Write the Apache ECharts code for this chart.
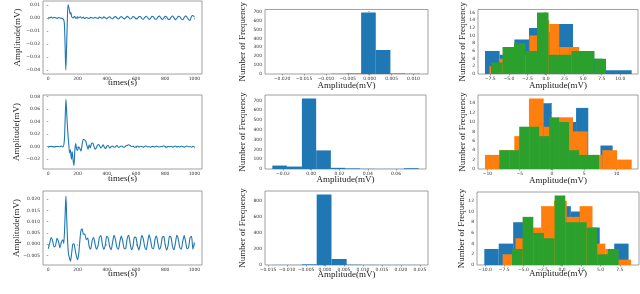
<!DOCTYPE html>
<html><head><meta charset="utf-8">
<script src="https://cdn.jsdelivr.net/npm/echarts@6/dist/echarts.min.js"></script>
<style>html,body{margin:0;padding:0;background:#fff}#c{width:640px;height:294px}</style>
</head><body><div id="c"></div>
<script>
// ---------- tick labels ----------
const timeTicks = [0, 200, 400, 600, 800, 1000];
const aYTicks = [-0.04, -0.03, -0.02, -0.01, 0, 0.01];
const dYTicks = [-0.02, 0, 0.02, 0.04, 0.06, 0.08];
const gYTicks = [-0.005, 0, 0.005, 0.01, 0.015, 0.02];
const bXTicks = [-0.02, -0.015, -0.01, -0.005, 0, 0.005, 0.01];
const bYTicks = [0, 100, 200, 300, 400, 500, 600, 700];
const eXTicks = [-0.02, 0, 0.02, 0.04, 0.06];
const eYTicks = [0, 100, 200, 300, 400, 500, 600, 700];
const hXTicks = [-0.015, -0.01, -0.005, 0, 0.005, 0.01, 0.015, 0.02, 0.025];
const hYTicks = [0, 200, 400, 600, 800];
const cXTicks = [-7.5, -5, -2.5, 0, 2.5, 5, 7.5, 10];
const cYTicks = [0, 2, 4, 6, 8, 10, 12, 14, 16];
const fXTicks = [-10, -5, 0, 5, 10];
const fYTicks = [0, 2, 4, 6, 8, 10, 12, 14];
const iXTicks = [-10, -7.5, -5, -2.5, 0, 2.5, 5, 7.5];
const iYTicks = [0, 2, 4, 6, 8, 10, 12];

// ---------- row 1 signal ----------
const aTimes = [0,10,20,30,40,50,60,70,80,90,100,105,110,115,120,125,130,135,140,145,150,155,160,170,180,190,200,
 210,220,230,240,250,260,270,280,290,300,310,320,330,340,350,360,370,380,390,400,410,420,430,440,450,460,470,480,490,500,
 510,520,530,540,550,560,570,580,590,600,610,620,630,640,650,660,670,680,690,700,710,720,730,740,750,760,770,780,790,800,
 810,820,830,840,850,860,870,880,890,900,910,920,930,940,950,960,970,980,990,1000];
const aValues = [0.0003,0.0000,0.0006,-0.0002,0.0004,0.0001,-0.0004,0.0003,0.0000,-0.0003,-0.0006,-0.0012,-0.0040,-0.0200,-0.0400,-0.0240,-0.0040,0.0102,0.0085,0.0060,0.0030,0.0042,0.0010,0.0000,0.0012,-0.0005,0.0008,
 0.0002,0.0009,-0.0002,0.0006,-0.0004,0.0003,0.0000,-0.0005,0.0004,0.0001,-0.0003,0.0005,0.0000,-0.0004,0.0006,0.0002,-0.0003,0.0008,0.0001,-0.0006,0.0004,0.0009,-0.0002,-0.0007,0.0005,0.0010,-0.0001,-0.0008,0.0003,0.0011,
 0.0000,-0.0009,0.0002,0.0012,0.0004,-0.0008,-0.0003,0.0010,0.0006,-0.0007,-0.0004,0.0009,0.0011,-0.0005,-0.0010,0.0004,0.0013,0.0002,-0.0011,-0.0003,0.0012,0.0008,-0.0009,-0.0010,0.0006,0.0014,0.0001,-0.0012,-0.0002,0.0013,
 0.0007,-0.0010,-0.0011,0.0005,0.0015,0.0002,-0.0013,-0.0004,0.0012,0.0010,-0.0008,-0.0014,0.0003,0.0016,0.0005,-0.0012,-0.0020,0.0011,0.0018,0.0006];

// ---------- row 2 signal ----------
const dTimes = [0,20,40,60,80,90,100,110,115,121,127,133,140,146,152,158,164,170,176,182,188,194,200,208,216,224,232,240,248,256,264,272,280,288,296,304,312,320,328,336,344,352,360,368,376,384,392,400,
 410,420,430,440,450,460,470,480,490,500,510,520,530,540,550,560,570,580,590,600,610,620,630,640,650,660,670,680,690,700,
 710,720,730,740,750,760,770,780,790,800,810,820,830,840,850,860,870,880,890,900,910,920,930,940,950,960,970,980,990,1000];
const dValues = [0.000,0.0005,-0.0003,0.0004,0.0000,0.0012,-0.0003,0.010,0.040,0.0757,0.050,0.025,0.005,-0.010,-0.005,-0.020,-0.008,-0.022,-0.030,-0.005,0.005,-0.004,-0.006,0.000,-0.003,-0.007,0.004,0.012,0.011,0.009,0.002,-0.004,0.003,-0.002,0.005,0.006,0.001,-0.004,-0.002,0.002,0.004,0.001,-0.002,0.000,0.003,-0.001,-0.003,0.001,
 0.002,-0.002,0.000,0.001,-0.001,0.000,0.002,-0.001,0.000,0.001,0.000,-0.001,0.001,0.002,0.003,0.002,0.000,0.001,-0.001,0.000,0.001,-0.0005,0.0008,0.0002,-0.0008,0.0006,0.0012,-0.0004,0.0003,-0.0010,
 0.0005,0.0001,-0.0006,0.0009,0.0002,-0.0005,0.0004,0.0000,0.0015,0.0003,-0.0007,0.0006,-0.0002,0.0008,-0.0009,0.0004,0.0010,-0.0003,0.0005,-0.0006,0.0007,0.0001,-0.0008,0.0004,0.0011,-0.0002,0.0003,-0.0009,0.0005,-0.0001];

// ---------- row 3 signal ----------
const gTimes = [0,10,20,30,40,50,60,70,80,90,100,106,112,117,121,126,132,138,145,152,160,168,176,184,192,200,208,216,224,232,240,
 250,260,270,280,290,300,310,320,330,340,350,360,370,380,390,400,410,420,430,440,450,460,470,480,490,500,
 510,520,530,540,550,560,570,580,590,600,610,620,630,640,650,660,670,680,690,700,710,720,730,740,750,760,770,780,790,800,
 810,820,830,840,850,860,870,880,890,900,910,920,930,940,950,960,970,980,990,1000];
const gValues = [-0.0020,0.0005,0.0030,0.0015,-0.0012,-0.0005,0.0026,0.0012,-0.0016,0.0010,0.0020,0.0004,0.0070,0.0160,0.0215,0.0120,0.0020,-0.0040,-0.0062,-0.0075,-0.0040,0.0000,0.0002,-0.0025,-0.0050,-0.0068,-0.0045,0.0015,0.0062,0.0068,0.0045,
 0.0045,0.0020,0.0028,-0.0010,-0.0022,0.0015,0.0030,0.0002,-0.0022,-0.0008,0.0030,0.0038,0.0000,-0.0022,-0.0005,0.0035,0.0028,-0.0010,-0.0024,0.0008,0.0040,0.0020,-0.0015,-0.0022,0.0012,0.0036,
 0.0012,-0.0020,-0.0018,0.0025,0.0040,0.0005,-0.0024,-0.0008,0.0032,0.0030,-0.0005,-0.0025,0.0002,0.0038,0.0025,-0.0012,-0.0024,0.0010,0.0042,0.0018,-0.0016,-0.0020,0.0020,0.0036,0.0005,-0.0022,-0.0010,0.0030,0.0035,-0.0002,
 -0.0025,-0.0005,0.0036,0.0030,-0.0008,-0.0024,0.0005,0.0040,0.0022,-0.0015,-0.0022,0.0012,0.0038,0.0010,-0.0020,-0.0015,0.0028,0.0035,-0.0022,0.0008];

// ---------- histograms (bin edges and counts) ----------
const bEdges = [-0.0220,-0.01866,-0.01532,-0.01198,-0.00864,-0.0053,-0.00196,0.00138,0.00472,0.00806,0.0114];
const bCounts = [0,0,0,1,4,6,690,270,5,2];
const eEdges = [-0.0275,-0.0172,-0.0066,0.0035,0.0139,0.0242,0.0346,0.0449,0.0553,0.0656,0.0760];
const eCounts = [35,25,720,190,12,6,2,1,1,8];
const hEdges = [-0.0140,-0.0101,-0.0061,-0.0022,0.0017,0.0057,0.0096,0.0135,0.0175,0.0214,0.0253];
const hCounts = [1,1,8,885,75,4,2,1,1,1];

const cBlueEdges = [-8.21,-6.24,-4.26,-2.29,-0.32,1.66,3.63,5.60,7.58,9.55,11.53];
const cBlueCounts = [6,5,9,12,11,13,3,4,1,1];
const cOrangeEdges = [-7.61,-6.27,-4.93,-3.58,-2.24,-0.90,0.45,1.79,3.13,4.47,5.81];
const cOrangeCounts = [2,4,7,5,10,14,13,7,7,3];
const cGreenEdges = [-7.40,-5.85,-4.31,-2.76,-1.21,0.34,1.88,3.43,4.98,6.53,8.08];
const cGreenCounts = [3,7,8,6,16,5,5,6,6,4];

const fBlueEdges = [-9.50,-7.61,-5.72,-3.83,-1.94,-0.05,1.84,3.73,5.62,7.51,9.40];
const fBlueCounts = [1,2,4,8,14,8,10,13,2,5];
const fOrangeEdges = [-10.39,-8.12,-5.84,-3.57,-1.29,0.98,3.25,5.53,7.80,10.08,12.35];
const fOrangeCounts = [3,4,7,15,9,11,8,3,4,2];
const fGreenEdges = [-8.17,-6.62,-5.08,-3.53,-1.99,-0.44,1.10,2.65,4.20,5.74,7.29];
const fGreenCounts = [4,4,9,9,7,11,10,4,3,3];

const iBlueEdges = [-10.09,-8.22,-6.34,-4.47,-2.60,-0.72,1.15,3.03,4.90,6.78,8.65];
const iBlueCounts = [3,4,8,6,9,11,10,7,2,4];
const iOrangeEdges = [-7.71,-6.04,-4.38,-2.71,-1.04,0.62,2.29,3.96,5.63,7.29,8.96];
const iOrangeCounts = [2,5,7,11,12,9,11,4,3,1];
const iGreenEdges = [-6.50,-5.12,-3.73,-2.35,-0.96,0.43,1.81,3.20,4.58,5.97,7.35];
const iGreenCounts = [3,9,6,5,13,8,8,7,2,3];

// ---------- build ----------
const BLUE = '#1f77b4', ORANGE = '#ff7f0e', GREEN = '#2ca02c';
function fmt(dec) { return v => Number(v).toFixed(dec).replace('-', '\u2212'); }

const grids = [
  {left:43, top:1, width:159, height:73}, {left:265, top:1, width:163, height:73}, {left:478, top:1, width:160, height:73},
  {left:43, top:95, width:159, height:74}, {left:265, top:95, width:161, height:74}, {left:478, top:95, width:160, height:74},
  {left:43, top:191, width:159, height:74}, {left:265, top:191, width:163, height:74}, {left:477, top:192, width:162, height:73}
].map(g => Object.assign({show:true, borderColor:'#888', borderWidth:0.8, backgroundColor:'#fff'}, g));

const nameStyle = {fontFamily:'Liberation Serif', fontSize:9, color:'#222'};
function xAx(i, min, max, ticks, dec, name, gap) {
  return {type:'value', gridIndex:i, min, max, position:'bottom',
    axisLine:{show:false}, splitLine:{show:false},
    axisTick:{show:true, customValues:ticks, length:1.5, lineStyle:{color:'#666', width:0.6}},
    axisLabel:{customValues:ticks, formatter:fmt(dec), fontSize:4.5, color:'#333', margin:2, fontFamily:'DejaVu Sans'},
    name, nameLocation:'middle', nameGap:gap, nameMoveOverlap:false, nameTextStyle:nameStyle};
}
function yAx(i, min, max, ticks, dec, name, gap) {
  return {type:'value', gridIndex:i, min, max, position:'left',
    axisLine:{show:false}, splitLine:{show:false},
    axisTick:{show:true, customValues:ticks, length:1.5, lineStyle:{color:'#666', width:0.6}},
    axisLabel:{customValues:ticks, formatter:fmt(dec), fontSize:4.5, color:'#333', margin:3, fontFamily:'DejaVu Sans'},
    name, nameLocation:'middle', nameGap:gap, nameMoveOverlap:false, nameTextStyle:nameStyle};
}

const xAxes = [
  xAx(0, -36, 1052, timeTicks, 0, 'times(s)', 4.5),
  xAx(1, -0.0239, 0.0133, bXTicks, 3, 'Amplitude(mV)', 7.5),
  xAx(2, -9.15, 12.38, cXTicks, 1, 'Amplitude(mV)', 7.5),
  xAx(3, -36, 1052, timeTicks, 0, 'times(s)', 5.5),
  xAx(4, -0.0327, 0.0812, eXTicks, 2, 'Amplitude(mV)', 6.5),
  xAx(5, -11.47, 13.33, fXTicks, 0, 'Amplitude(mV)', 7),
  xAx(6, -36, 1052, timeTicks, 0, 'times(s)', 4.5),
  xAx(7, -0.0158, 0.0271, hXTicks, 3, 'Amplitude(mV)', 5),
  xAx(8, -11.04, 10.0, iXTicks, 1, 'Amplitude(mV)', 4)
];
const yAxes = [
  yAx(0, -0.0431, 0.0130, aYTicks, 2, 'Amplitude(mV)', 21),
  yAx(1, 0, 724.5, bYTicks, 0, 'Number of Frequency', 18),
  yAx(2, 0, 16.8, cYTicks, 0, 'Number of Frequency', 11),
  yAx(3, -0.0357, 0.0827, dYTicks, 2, 'Amplitude(mV)', 22),
  yAx(4, 0, 756, eYTicks, 0, 'Number of Frequency', 18),
  yAx(5, 0, 15.75, fYTicks, 0, 'Number of Frequency', 11),
  yAx(6, -0.0092, 0.0236, gYTicks, 3, 'Amplitude(mV)', 22),
  yAx(7, 0, 929, hYTicks, 0, 'Number of Frequency', 18),
  yAx(8, 0, 13.65, iYTicks, 0, 'Number of Frequency', 11)
];

function lineSeries(i, xs, ys) {
  return {type:'line', xAxisIndex:i, yAxisIndex:i, data:xs.map((x, k) => [x, ys[k]]),
    showSymbol:false, symbol:'none', smooth:0.25, lineStyle:{color:BLUE, width:1.1}, itemStyle:{color:BLUE}, clip:true};
}
function histSeries(i, edges, counts, color) {
  return {type:'custom', xAxisIndex:i, yAxisIndex:i, clip:true,
    data:counts.map((c, k) => [edges[k], edges[k + 1], c]),
    encode:{x:[0, 1], y:2},
    renderItem:(params, api) => {
      const p0 = api.coord([api.value(0), api.value(2)]);
      const p1 = api.coord([api.value(1), 0]);
      return {type:'rect', shape:{x:p0[0], y:p0[1], width:p1[0] - p0[0], height:p1[1] - p0[1]},
        style:{fill:color, stroke:null}};
    }};
}

const series = [
  lineSeries(0, aTimes, aValues),
  histSeries(1, bEdges, bCounts, BLUE),
  histSeries(2, cBlueEdges, cBlueCounts, BLUE),
  histSeries(2, cOrangeEdges, cOrangeCounts, ORANGE),
  histSeries(2, cGreenEdges, cGreenCounts, GREEN),
  lineSeries(3, dTimes, dValues),
  histSeries(4, eEdges, eCounts, BLUE),
  histSeries(5, fBlueEdges, fBlueCounts, BLUE),
  histSeries(5, fOrangeEdges, fOrangeCounts, ORANGE),
  histSeries(5, fGreenEdges, fGreenCounts, GREEN),
  lineSeries(6, gTimes, gValues),
  histSeries(7, hEdges, hCounts, BLUE),
  histSeries(8, iBlueEdges, iBlueCounts, BLUE),
  histSeries(8, iOrangeEdges, iOrangeCounts, ORANGE),
  histSeries(8, iGreenEdges, iGreenCounts, GREEN)
];

const chart = echarts.init(document.getElementById('c'), null, {renderer:'canvas'});
chart.setOption({animation:false, backgroundColor:'#fff', grid:grids, xAxis:xAxes, yAxis:yAxes, series});
</script></body></html>
